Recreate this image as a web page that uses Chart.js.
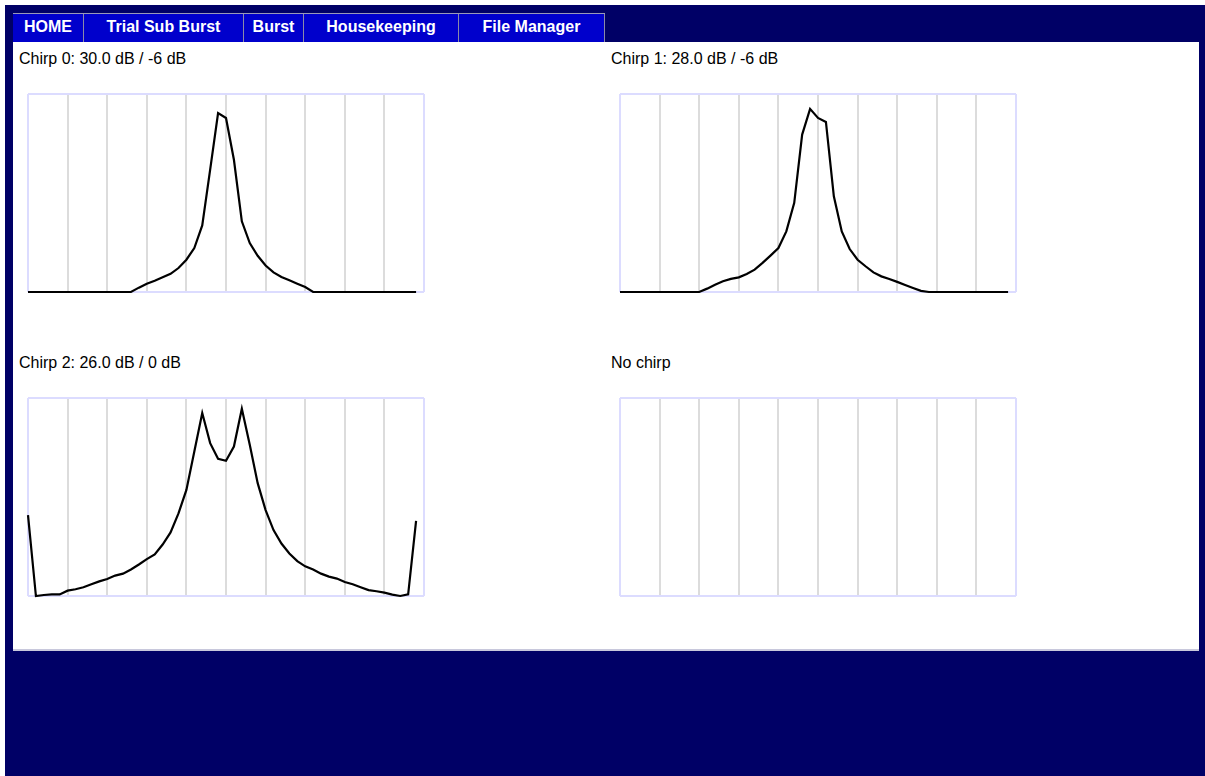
<!DOCTYPE html>
<html>
<head>
<meta charset="utf-8">
<script src="https://cdn.jsdelivr.net/npm/chart.js@4/dist/chart.umd.min.js"></script>
<style>
  html, body { margin:0; padding:0; width:1205px; height:776px; overflow:hidden; background:#fff; font-family: Arial, "Liberation Sans", sans-serif; }
  #navy { position:absolute; left:5px; top:5px; width:1200px; height:771px; background:#000066; }
  #nav { position:absolute; left:13px; top:13px; height:29px; display:flex; border-top:1px solid #9a9ab8; box-sizing:border-box; }
  #nav div { background:#0000cc; color:#fff; font-weight:bold; font-size:16px; line-height:25px; text-align:center; border-right:1px solid #8a8aa8; box-sizing:border-box; }
  #panel { position:absolute; left:13px; top:42px; width:1186px; height:609px; background:#fff; border-bottom:2px solid #c8c8dc; box-sizing:border-box; }
  .lbl { position:absolute; font-size:16px; color:#000; line-height:18px; white-space:nowrap; }
  canvas.c { position:absolute; }
</style>
</head>
<body>
<div id="navy"></div>
<div id="nav">
  <div style="width:71px">HOME</div>
  <div style="width:160px">Trial Sub Burst</div>
  <div style="width:60px">Burst</div>
  <div style="width:155px">Housekeeping</div>
  <div style="width:146px">File Manager</div>
</div>
<div id="panel"></div>
<div class="lbl" id="t0" style="left:19px;top:50px"></div>
<div class="lbl" id="t1" style="left:611px;top:50px"></div>
<div class="lbl" id="t2" style="left:19px;top:354px"></div>
<div class="lbl" id="t3" style="left:611px;top:354px"></div>
<canvas class="c" id="c0" width="404" height="206" style="left:24px;top:90px"></canvas>
<canvas class="c" id="c1" width="404" height="206" style="left:616px;top:90px"></canvas>
<canvas class="c" id="c2" width="404" height="206" style="left:24px;top:394px"></canvas>
<canvas class="c" id="c3" width="404" height="206" style="left:616px;top:394px"></canvas>
<script>
const titles = ["Chirp 0: 30.0 dB / -6 dB", "Chirp 1: 28.0 dB / -6 dB", "Chirp 2: 26.0 dB / 0 dB", "No chirp"];
const binCount = 50;
const chirp0 = [0,0,0,0,0,0,0,0,0,0,0,0,0,0,2.2,4.2,5.7,7.4,9.2,12.1,16.3,22.2,33.6,61.8,90.4,87.9,66.8,35.7,24.7,18.3,13.4,9.9,7.6,5.9,4.2,2.5,0,0,0,0,0,0,0,0,0,0,0,0,0,0];
const chirp1 = [0,0,0,0,0,0,0,0,0,0,0,1.7,3.7,5.4,6.6,7.4,9.1,11.3,14.7,18.4,22.2,30.6,45.0,79.5,92.5,87.9,85.9,48.3,30.6,21.7,16.3,13.0,9.9,7.9,6.6,5.1,3.5,2.0,0.6,0,0,0,0,0,0,0,0,0,0,0];
const chirp2 = [40.9,0,0.5,0.8,0.8,2.7,3.4,4.4,5.9,7.4,8.6,10.3,11.3,13.4,15.9,18.6,21.0,26.0,32.1,41.7,53.6,73.0,92.4,77.2,69.3,68.3,75.5,94.6,76.4,57.0,43.4,33.3,26.5,21.5,17.6,15.0,13.4,11.3,9.8,8.8,7.1,5.9,4.4,3.0,2.4,1.7,0.7,0,0.8,37.9];
const chirp3 = [];
const series = [chirp0, chirp1, chirp2, chirp3];

series.forEach((vals, k) => {
  document.getElementById('t' + k).textContent = titles[k];
  new Chart(document.getElementById('c' + k), {
    type: 'line',
    data: {
      datasets: [{
        data: vals.map((v, i) => ({x: i, y: v})),
        borderColor: '#000',
        borderWidth: 2.2,
        pointRadius: 0,
        tension: 0,
        fill: false,
        clip: 4
      }]
    },
    options: {
      responsive: false,
      animation: false,
      events: [],
      layout: { padding: 4 },
      plugins: { legend: { display: false }, tooltip: { enabled: false } },
      scales: {
        x: {
          type: 'linear', min: 0, max: binCount,
          ticks: { display: false, stepSize: 5 },
          border: { display: false },
          grid: {
            drawTicks: false,
            lineWidth: 2,
            color: c => (c.tick.value === 0 || c.tick.value === binCount) ? '#dcdcff' : '#dcdcdc'
          }
        },
        y: {
          min: 0, max: 100,
          ticks: { display: false, stepSize: 100 },
          border: { display: false },
          grid: { drawTicks: false, lineWidth: 2, color: '#dcdcff' }
        }
      }
    }
  });
});
</script>
</body>
</html>
